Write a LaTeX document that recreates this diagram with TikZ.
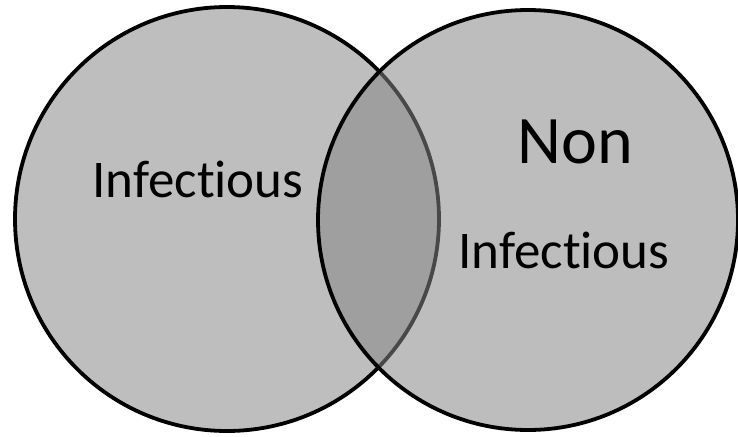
\documentclass[tikz,border=0pt]{standalone}
\usepackage{fontspec}
\setmainfont[Ligatures=NoCommon]{Carlito}
\begin{document}
\begin{tikzpicture}[x=1pt,y=-1pt,
  ring/.style={draw=black,line width=3.8pt},
  lbl/.style={anchor=base,inner sep=0pt,text=black}]
\fill[white] (0,0) rectangle (738,436);
\useasboundingbox (0,0) rectangle (738,436);
\definecolor{lightg}{RGB}{190,190,190}
\definecolor{overg}{RGB}{134,134,134}
\node[circle,minimum size=424pt,inner sep=0pt,ring,fill=lightg] (L) at (227,219) {};
\node[circle,minimum size=420pt,inner sep=0pt,ring,fill=overg,fill opacity=0.54] (R) at (528,220) {};
\node[lbl,font=\fontsize{53}{60}\selectfont] (t1) at (198,197) {Infectious};
\node[lbl,font=\fontsize{68}{80}\selectfont] (t2) at (575,163) {Non};
\node[lbl,font=\fontsize{53}{60}\selectfont] (t3) at (564,268) {Infectious};
\end{tikzpicture}
\end{document}
